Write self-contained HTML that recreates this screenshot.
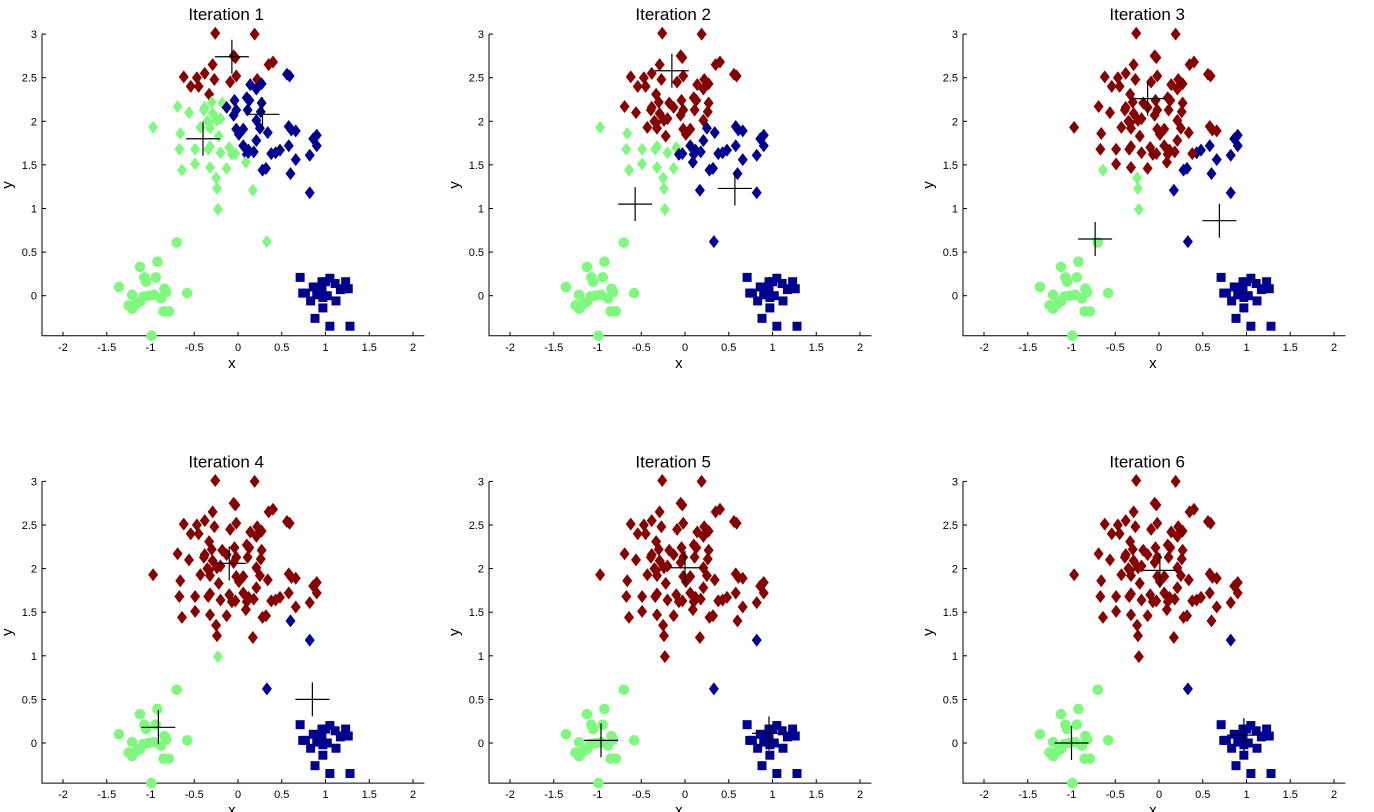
<!DOCTYPE html>
<html><head><meta charset="utf-8"><style>
html,body{margin:0;padding:0;background:#fff;}
svg{display:block;font-family:"Liberation Sans",sans-serif;}
</style></head><body>
<svg id="chart" width="1374" height="812" viewBox="0 0 1374 812" xmlns="http://www.w3.org/2000/svg"></svg>
<script>
// Points: [x, y]; grouped by true class (shape)
const diamondsA = [[-0.26,3.01],[0.19,3.00],[-0.05,2.75],[-0.03,2.73],[-0.29,2.65],[0.35,2.65],[0.40,2.68],[-0.62,2.51],[-0.47,2.50],[-0.38,2.55],[-0.27,2.48],[-0.02,2.52],[-0.09,2.45],[0.22,2.48],[-0.54,2.40],[-0.45,2.40],[-0.33,2.31]];
const diamondsB = [[0.56,2.54],[0.59,2.52],[0.14,2.42],[0.27,2.43],[0.21,2.37],[-0.18,2.21],[-0.13,2.16],[-0.04,2.24],[-0.05,2.07],[-0.02,2.13],[0.10,2.27],[0.13,2.24],[0.11,2.13],[0.27,2.21],[0.21,2.01],[0.25,1.92],[-0.02,1.91],[0.01,1.85],[0.06,1.91],[0.34,1.87],[0.21,1.78],[0.06,1.72],[0.12,1.67],[0.18,1.65],[0.10,1.62],[0.58,1.94],[0.61,1.90],[0.66,1.89],[0.58,1.72],[0.48,1.67],[0.43,1.64],[0.38,1.63],[0.82,1.61],[0.86,1.80],[0.90,1.84],[0.90,1.72],[0.66,1.56],[0.28,1.44],[0.32,1.46],[0.60,1.40],[0.82,1.18],[0.26,2.11]];
const diamondsC = [[-0.69,2.17],[-0.56,2.10],[-0.39,2.13],[-0.30,2.22],[-0.38,2.16],[-0.29,2.09],[-0.24,2.01],[-0.20,2.03],[-0.97,1.93],[-0.43,1.93],[-0.35,2.00],[-0.32,1.92],[-0.33,1.98],[-0.66,1.86],[-0.22,1.83],[-0.67,1.68],[-0.49,1.68],[-0.34,1.68],[-0.32,1.71],[-0.20,1.64],[-0.10,1.70],[-0.07,1.62],[-0.03,1.63],[0.09,1.53],[-0.49,1.51],[-0.32,1.47],[-0.64,1.44],[-0.13,1.46],[-0.25,1.35],[-0.24,1.23],[0.17,1.21],[-0.23,0.99],[0.33,0.62]];
const circles = [[-0.70,0.61],[-0.92,0.39],[-1.12,0.33],[-1.07,0.21],[-0.94,0.21],[-1.05,0.16],[-1.36,0.10],[-1.21,0.01],[-0.84,0.08],[-0.82,0.04],[-0.58,0.03],[-1.08,-0.01],[-1.02,0.00],[-0.96,0.01],[-1.12,-0.07],[-1.17,-0.10],[-1.25,-0.11],[-1.21,-0.15],[-0.88,-0.03],[-0.85,-0.18],[-0.79,-0.18],[-0.99,-0.46]];
const squares = [[0.71,0.21],[0.86,0.10],[0.74,0.03],[0.77,0.03],[0.96,0.16],[1.00,0.16],[1.05,0.20],[1.11,0.14],[1.23,0.16],[1.21,0.08],[1.26,0.08],[1.17,0.07],[0.90,0.01],[0.96,0.02],[1.02,0.00],[0.83,-0.06],[0.97,-0.02],[1.12,-0.06],[0.97,-0.14],[0.88,-0.26],[1.05,-0.35],[1.28,-0.35],[0.96,0.07]];
// Centroids per iteration: [red, blue, green]
const centroids = [
  [[-0.07,2.74],[0.28,2.08],[-0.40,1.80]],
  [[-0.15,2.58],[0.57,1.23],[-0.57,1.05]],
  [[-0.13,2.26],[0.69,0.86],[-0.73,0.65]],
  [[-0.10,2.06],[0.85,0.50],[-0.91,0.18]],
  [[0.00,2.01],[0.96,0.11],[-0.96,0.03]],
  [[0.01,1.98],[0.97,0.09],[-1.00,0.00]]
];
const titles = ["Iteration 1","Iteration 2","Iteration 3","Iteration 4","Iteration 5","Iteration 6"];
const xTicks = [-2,-1.5,-1,-0.5,0,0.5,1,1.5,2];
const yTicks = [0,0.5,1,1.5,2,2.5,3];
const xTickLabels = ["-2","-1.5","-1","-0.5","0","0.5","1","1.5","2"];
const yTickLabels = ["0","0.5","1","1.5","2","2.5","3"];

const colors = ["#850000","#00008f","#80f880"];
const NS = "http://www.w3.org/2000/svg";
const svg = document.getElementById('chart');
function mk(tag, attrs, parent){const e=document.createElementNS(NS,tag);for(const k in attrs)e.setAttribute(k,attrs[k]);parent.appendChild(e);return e;}

const pts = [];
diamondsA.forEach(p=>pts.push({x:p[0],y:p[1],shape:'d'}));
diamondsB.forEach(p=>pts.push({x:p[0],y:p[1],shape:'d'}));
diamondsC.forEach(p=>pts.push({x:p[0],y:p[1],shape:'d'}));
circles.forEach(p=>pts.push({x:p[0],y:p[1],shape:'c'}));
squares.forEach(p=>pts.push({x:p[0],y:p[1],shape:'s'}));

function nearest(p, cs){let b=0,bd=1e9;cs.forEach((c,i)=>{const d=(p.x-c[0])**2+(p.y-c[1])**2;if(d<bd){bd=d;b=i;}});return b;}

const colX0 = [238, 685, 1159];
const rowY0 = [295.7, 743];
const KX = 87.5, KY = 87.2, XMIN = -2.24, XMAX = 2.13, YMIN = -0.46, YMAX = 3.0;

for (let k=0;k<6;k++){
  const ox = colX0[k%3], oy = rowY0[Math.floor(k/3)];
  const sx = v => ox + v*KX, sy = v => oy - v*KY;
  const g = mk('g',{},svg);
  
  
  const L = sx(XMIN), R = sx(XMAX), B = sy(YMIN), T = sy(YMAX);
  const t = mk('text',{x:sx((XMIN+XMAX)/2)-7,y:T-14,'text-anchor':'middle','font-size':'17'},g);
  t.textContent = titles[k];
  
  
  const ax = mk('path',{d:`M${L},${T}V${B}H${R}`,stroke:'#000','stroke-width':1,fill:'none'},g);
  
  
  xTicks.forEach((v,i)=>{
    mk('line',{x1:sx(v),x2:sx(v),y1:B,y2:B-4,stroke:'#000','stroke-width':1},g);
    const tl = mk('text',{x:sx(v),y:B+15,'text-anchor':'middle','font-size':'11'},g);
    tl.textContent = xTickLabels[i];
    
    
  });
  yTicks.forEach((v,i)=>{
    mk('line',{x1:L,x2:L+4,y1:sy(v),y2:sy(v),stroke:'#000','stroke-width':1},g);
    const tl = mk('text',{x:L-5,y:sy(v)+4,'text-anchor':'end','font-size':'11'},g);
    tl.textContent = yTickLabels[i];
    
    
  });
  const xl = mk('text',{x:sx(-0.07),y:B+32,'text-anchor':'middle','font-size':'15'},g);
  xl.textContent='x';
  
  
  const yl = mk('text',{x:L-30,y:(T+B)/2,'text-anchor':'middle','font-size':'15',transform:`rotate(-90 ${L-30} ${(T+B)/2})`},g);
  yl.textContent='y';
  
  

  pts.forEach(p=>{
    const lab = nearest(p, centroids[k]);
    const c = colors[lab], X = sx(p.x), Y = sy(p.y);
    let e;
    if (p.shape==='d') e = mk('polygon',{points:`${X},${Y-6.5} ${X+5},${Y} ${X},${Y+6.5} ${X-5},${Y}`,fill:c},g);
    else if (p.shape==='c') e = mk('circle',{cx:X,cy:Y,r:5.3,fill:c},g);
    else e = mk('rect',{x:X-4.5,y:Y-4.5,width:9,height:9,fill:c},g);
    
    
  });
  centroids[k].forEach(c=>{
    const X=sx(c[0]),Y=sy(c[1]);
    const e = mk('path',{d:`M${X-17},${Y}H${X+17}M${X},${Y-17}V${Y+17}`,stroke:'#000','stroke-width':1.2,fill:'none'},g);
    
    
  });
}
</script>
</body></html>
